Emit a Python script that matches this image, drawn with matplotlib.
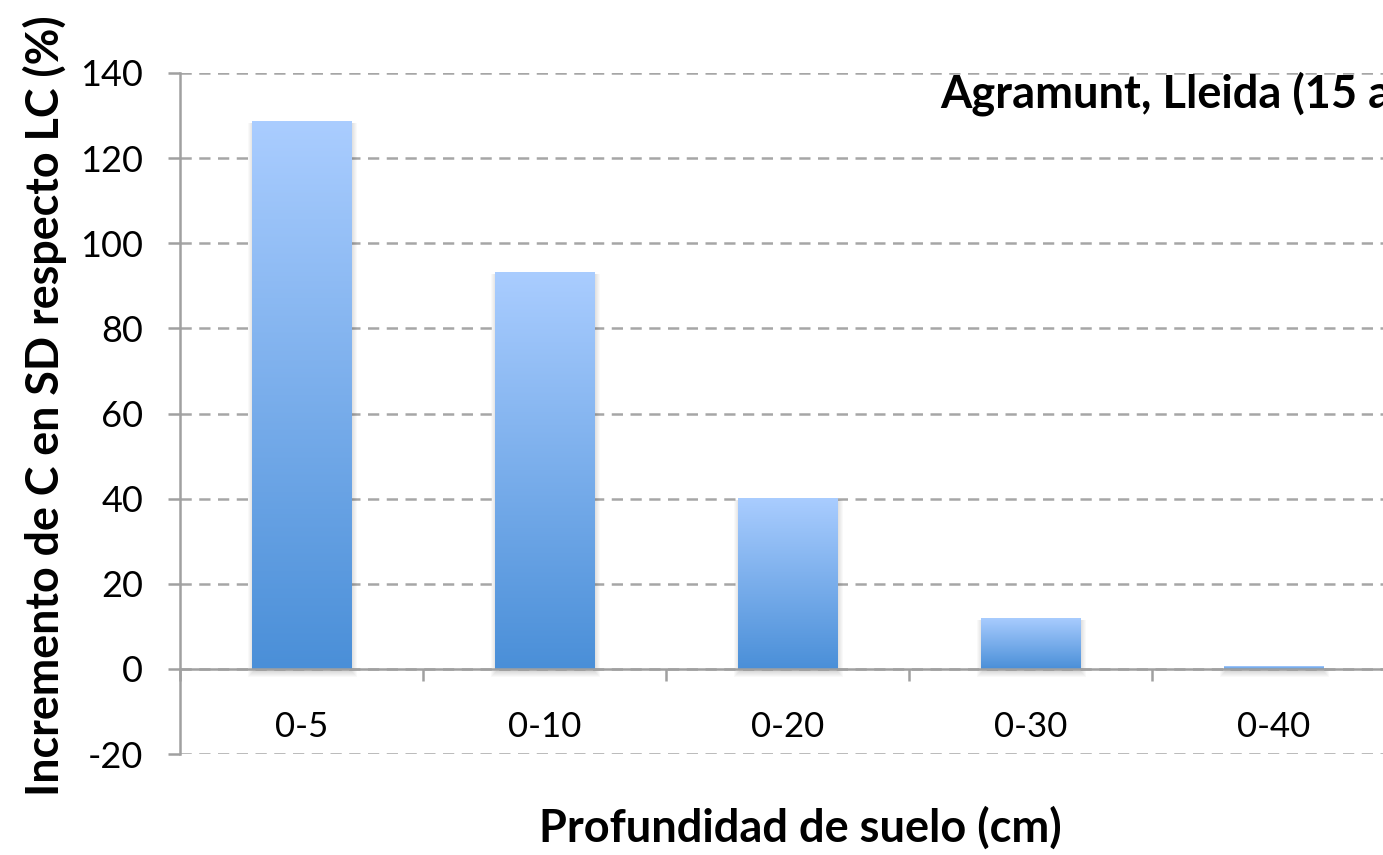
import matplotlib
matplotlib.use('Agg')
import matplotlib.pyplot as plt
import numpy as np
from matplotlib.colors import LinearSegmentedColormap
from matplotlib.ticker import FixedLocator
from matplotlib.patches import Rectangle

categories = ['0-5', '0-10', '0-20', '0-30', '0-40']
values = [128.7, 93.3, 40.2, 12.0, 0.7]
yticks = [-20, 0, 20, 40, 60, 80, 100, 120, 140]
title = 'Agramunt, Lleida (15 años)'
xlabel = 'Profundidad de suelo (cm)'
ylabel = 'Incremento de C en SD respecto LC (%)'

W, H = 1383, 855
fig = plt.figure(figsize=(W / 100, H / 100), dpi=100)
ax = fig.add_axes([180 / W, 101 / H, 1215 / W, 681 / H])

cmap = LinearSegmentedColormap.from_list('g', ['#4a8fd8', '#aacdff'])
grad = np.linspace(0, 1, 256).reshape(-1, 1)
x = np.arange(len(categories))
bars = ax.bar(x, values, width=0.41, color='none', edgecolor='none', zorder=3)

# pixel -> data scales for soft shadow
px_x = 1 / 243.0
px_y = 160 / 681.0
for b in bars:
    x0, y0 = b.get_x(), b.get_y()
    w, h = b.get_width(), b.get_height()
    top = y0 + h - 2 * px_y
    for k in range(1, 7):
        bottom = y0 - (2 + k) * px_y
        ax.add_patch(Rectangle((x0 - k * px_x + 2 * px_x, bottom),
                               w + 2 * k * px_x - 2 * px_x, max(top - bottom, 0),
                               facecolor='black', edgecolor='none', alpha=0.025, zorder=2.5))
    im = ax.imshow(grad, cmap=cmap, aspect='auto', origin='lower',
                   extent=[x0, x0 + w, y0, y0 + h], zorder=3, interpolation='bilinear')
    im.set_clip_path(b)

ax.set_xlim(-0.5, len(categories) - 0.5)
ax.set_ylim(-20, 140)
ax.set_yticks(yticks)
ax.set_yticklabels([str(v) for v in yticks], family='Lato', fontsize=26)
ax.yaxis.grid(True, color='#a6a6a6', linestyle=(0, (4.5, 3)), linewidth=1.8)
ax.set_axisbelow(True)

gray = '#a0a0a0'
for s in ['top', 'right']:
    ax.spines[s].set_visible(False)
ax.spines['left'].set_color(gray)
ax.spines['left'].set_linewidth(1.8)
ax.spines['bottom'].set_position(('data', 0))
ax.spines['bottom'].set_color(gray)
ax.spines['bottom'].set_linewidth(1.8)
ax.spines['bottom'].set_zorder(4)

ax.tick_params(axis='y', length=8.6, width=1.8, color=gray, pad=18)
ax.set_xticks(x)
ax.set_xticklabels(categories, family='Lato', fontsize=25)
ax.tick_params(axis='x', which='major', length=0, pad=30)
ax.xaxis.set_minor_locator(FixedLocator(np.arange(len(categories) + 1) - 0.5))
ax.tick_params(axis='x', which='minor', length=8.6, width=1.8, color=gray, direction='out')

fig.text(940 / W, 1 - 107 / H, title, family='Lato', fontweight='bold',
         fontsize=32.5, ha='left', va='baseline')
fig.text(800 / W, 1 - 828 / H, xlabel, family='Lato', fontweight='bold',
         fontsize=32.5, ha='center', va='center')
fig.text(45 / W, 1 - 406 / H, ylabel, family='Lato', fontweight='bold',
         fontsize=32.3, ha='center', va='center', rotation=90)

fig.savefig('out.png', dpi=100)
